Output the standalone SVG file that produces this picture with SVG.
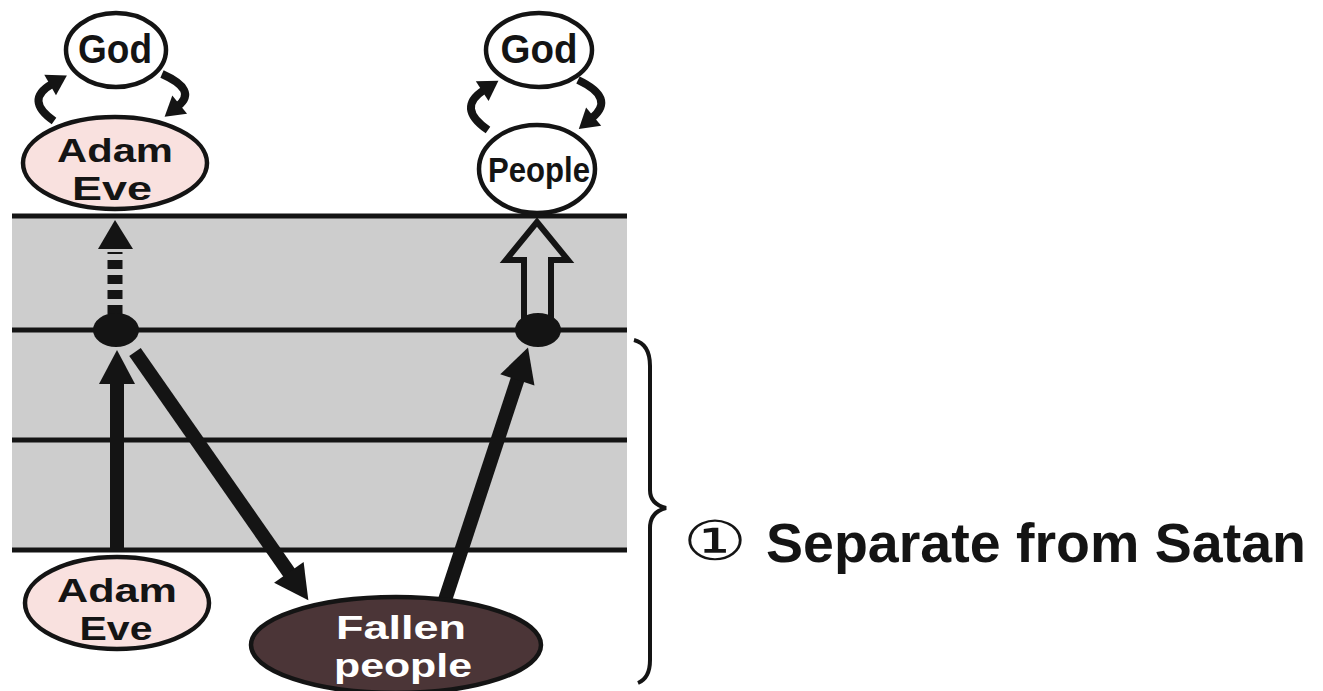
<svg xmlns="http://www.w3.org/2000/svg" width="1323" height="691" viewBox="0 0 1323 691">
<defs>
<style>
.band{fill:#cdcdcd}
.hl{stroke:#141414;stroke-width:5}
.node{stroke:#141414;stroke-width:4.5}
.lbl{font-family:"Liberation Sans",Arial,sans-serif;font-weight:bold;fill:#141414;text-anchor:middle}
.wlbl{fill:#ffffff}
.thick{stroke:#141414;stroke-width:14;fill:none}
.curve{stroke:#141414;stroke-width:8;fill:none}
</style>
<marker id="bigHead" markerUnits="userSpaceOnUse" markerWidth="40" markerHeight="40" viewBox="-2 -20 38 40" refX="0" refY="0" orient="auto">
<path d="M-2,-18 L32,0 L-2,18 z" fill="#141414"/>
</marker>
<marker id="smallHead" markerUnits="userSpaceOnUse" markerWidth="30" markerHeight="30" viewBox="-2 -14 24 28" refX="0" refY="0" orient="auto">
<path d="M-2,-11 L16,0 L-2,11 z" fill="#141414"/>
</marker>
</defs>
<rect width="1323" height="691" fill="#ffffff"/>

<g id="band">
<rect class="band" x="12" y="216" width="615" height="334"/>
<line class="hl" x1="12" y1="216" x2="627" y2="216"/>
<line class="hl" x1="12" y1="330" x2="627" y2="330"/>
<line class="hl" x1="12" y1="440" x2="627" y2="440"/>
<line class="hl" x1="12" y1="550" x2="627" y2="550"/>
</g>

<g id="connectors">
<path class="curve" d="M54,121 Q24,100 52,84" marker-end="url(#smallHead)"/>
<path class="curve" d="M162,74 Q198,90 178,106" marker-end="url(#smallHead)"/>
<path class="curve" d="M488,130 Q456,108 484,90" marker-end="url(#smallHead)"/>
<path class="curve" d="M578,80 Q616,98 592,118" marker-end="url(#smallHead)"/>
<line class="thick" x1="117" y1="550" x2="117" y2="382" marker-end="url(#bigHead)"/>
<line class="thick" x1="135" y1="352" x2="290" y2="574" marker-end="url(#bigHead)"/>
<line class="thick" x1="445" y1="600" x2="518" y2="378" marker-end="url(#bigHead)"/>
<line x1="115" y1="314" x2="115" y2="252" stroke="#141414" stroke-width="15" stroke-dasharray="9 6"/>
<polygon points="98,249 115,220 133,249" fill="#141414"/>
<polygon points="524,318 524,260 506,260 537,222 568,260 551,260 551,318" fill="none" stroke="#141414" stroke-width="6" stroke-linejoin="miter"/>
</g>

<g id="dots">
<ellipse cx="116" cy="330" rx="23" ry="17" fill="#141414"/>
<ellipse cx="538" cy="330" rx="23" ry="17" fill="#141414"/>
</g>

<g id="god-left">
<ellipse class="node" cx="116" cy="50" rx="50" ry="37" fill="#ffffff"/>
<text class="lbl" x="115" y="63" font-size="40" textLength="74" lengthAdjust="spacingAndGlyphs">God</text>
</g>

<g id="adam-eve-top">
<ellipse class="node" cx="115" cy="163" rx="92" ry="46" fill="#f9e1df"/>
<text class="lbl" x="115" y="162" font-size="34" textLength="116" lengthAdjust="spacingAndGlyphs">Adam</text>
<text class="lbl" x="112" y="200" font-size="34" textLength="80" lengthAdjust="spacingAndGlyphs">Eve</text>
</g>

<g id="god-right">
<ellipse class="node" cx="539" cy="50" rx="53" ry="37" fill="#ffffff"/>
<text class="lbl" x="539" y="63" font-size="40" textLength="77" lengthAdjust="spacingAndGlyphs">God</text>
</g>

<g id="people">
<ellipse class="node" cx="537" cy="169" rx="58" ry="44" fill="#ffffff"/>
<text class="lbl" x="539" y="182" font-size="35" textLength="102" lengthAdjust="spacingAndGlyphs">People</text>
</g>

<g id="adam-eve-bottom">
<ellipse class="node" cx="117" cy="603" rx="92" ry="46" fill="#f9e1df"/>
<text class="lbl" x="117" y="602" font-size="34" textLength="120" lengthAdjust="spacingAndGlyphs">Adam</text>
<text class="lbl" x="116" y="640" font-size="34" textLength="73" lengthAdjust="spacingAndGlyphs">Eve</text>
</g>

<g id="fallen-people">
<ellipse class="node" cx="396" cy="645" rx="145" ry="48" fill="#4b3537"/>
<text class="lbl wlbl" x="401" y="639" font-size="34" textLength="130" lengthAdjust="spacingAndGlyphs">Fallen</text>
<text class="lbl wlbl" x="403" y="677" font-size="34" textLength="138" lengthAdjust="spacingAndGlyphs">people</text>
</g>

<g id="brace-label">
<path d="M634,340 Q650,344 650,366 L650,490 Q650,504 666,508 Q650,512 650,528 L650,660 Q650,678 638,683" fill="none" stroke="#141414" stroke-width="4"/>
<text x="683" y="560" font-family="DejaVu Sans,'Noto Sans CJK JP',sans-serif" font-size="55" fill="#141414" textLength="64" lengthAdjust="spacingAndGlyphs">①</text>
<text class="lbl" x="766" y="562" font-size="56" style="text-anchor:start" textLength="540" lengthAdjust="spacingAndGlyphs">Separate from Satan</text>
</g>
</svg>
